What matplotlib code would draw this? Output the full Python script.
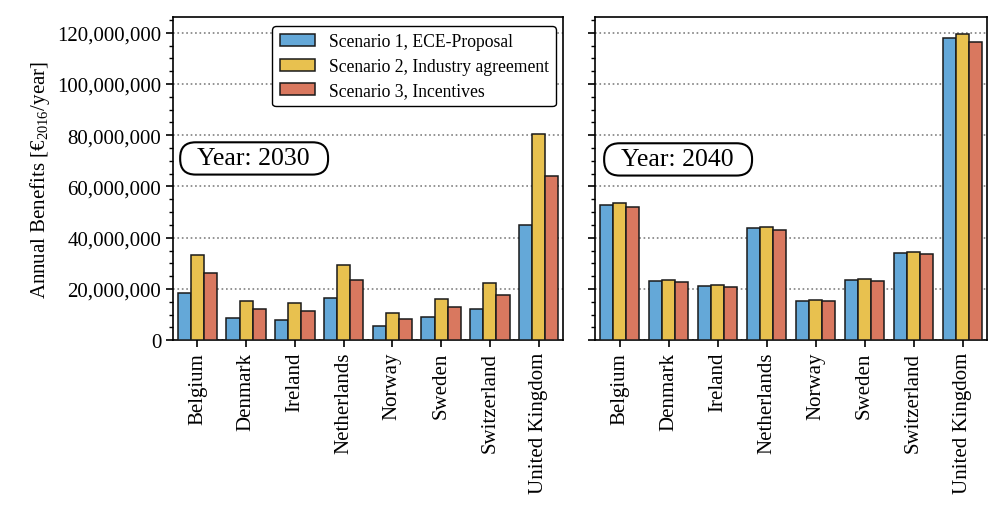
import matplotlib
matplotlib.use("Agg")
import matplotlib.pyplot as plt
import matplotlib.ticker as mticker
import numpy as np

plt.rcParams['font.family'] = ['Liberation Serif', 'DejaVu Serif']
plt.rcParams['mathtext.fontset'] = 'custom'
plt.rcParams['mathtext.rm'] = 'Liberation Serif'

countries = ["Belgium", "Denmark", "Ireland", "Netherlands", "Norway",
             "Sweden", "Switzerland", "United Kingdom"]
scenarios = ["Scenario 1, ECE-Proposal", "Scenario 2, Industry agreement",
             "Scenario 3, Incentives"]

# annual benefits, EUR/year
s1_2030 = [18.3e6, 8.5e6, 8.0e6, 16.5e6, 5.7e6, 9.2e6, 12.3e6, 45.0e6]
s2_2030 = [33.3e6, 15.3e6, 14.4e6, 29.4e6, 10.6e6, 16.1e6, 22.2e6, 80.3e6]
s3_2030 = [26.3e6, 12.2e6, 11.4e6, 23.4e6, 8.4e6, 12.8e6, 17.6e6, 63.9e6]

s1_2040 = [52.7e6, 23.1e6, 21.3e6, 43.7e6, 15.4e6, 23.5e6, 33.9e6, 117.9e6]
s2_2040 = [53.6e6, 23.5e6, 21.6e6, 44.1e6, 15.8e6, 23.9e6, 34.4e6, 119.7e6]
s3_2040 = [51.9e6, 22.9e6, 20.9e6, 42.9e6, 15.3e6, 23.1e6, 33.5e6, 116.3e6]

colors = ["#64a8d8", "#e8c14f", "#d9785f"]

fig = plt.figure(figsize=(10, 5.1), dpi=100)
ax1 = fig.add_axes([0.173, 0.331, 0.390, 0.633])
ax2 = fig.add_axes([0.595, 0.331, 0.392, 0.633], sharey=ax1)

x = np.arange(len(countries))
w = 0.27

for ax, data in [(ax1, [s1_2030, s2_2030, s3_2030]),
                 (ax2, [s1_2040, s2_2040, s3_2040])]:
    for i, vals in enumerate(data):
        ax.bar(x + (i - 1) * w, vals, w, color=colors[i], edgecolor="#1a1a1a",
               linewidth=1.1, label=scenarios[i], zorder=3)
    ax.set_xticks(x)
    ax.set_xticklabels(countries, rotation=90, fontsize=15)
    ax.set_xlim(-0.5, 7.5)
    ax.yaxis.grid(True, linestyle=":", color="gray", linewidth=1.2, zorder=0)
    ax.yaxis.set_major_locator(mticker.MultipleLocator(20e6))
    ax.yaxis.set_minor_locator(mticker.MultipleLocator(5e6))
    ax.tick_params(axis="both", which="major", length=5, width=1.2)
    ax.tick_params(axis="y", which="minor", length=3, width=1.0)
    for sp in ax.spines.values():
        sp.set_linewidth(1.2)

ax1.set_ylim(0, 126e6)
ax1.yaxis.set_major_formatter(mticker.FuncFormatter(lambda v, p: f"{v:,.0f}"))
ax1.tick_params(axis="y", labelsize=15)
ax2.tick_params(axis="y", labelleft=False)
ax1.set_ylabel(r"Annual Benefits [€$_{2016}$/year]", fontsize=15)

box = dict(boxstyle="round,pad=0.2,rounding_size=0.6", facecolor="white",
           edgecolor="black", linewidth=1.5)
ax1.text(0.208, 0.563, "  Year: 2030  ", transform=ax1.transAxes, fontsize=18.5,
         ha="center", va="center", bbox=box, zorder=5)
ax2.text(0.212, 0.560, "  Year: 2040  ", transform=ax2.transAxes, fontsize=18.5,
         ha="center", va="center", bbox=box, zorder=5)

leg = ax1.legend(loc="upper right", fontsize=12.7, frameon=True, fancybox=True,
                 edgecolor="black", framealpha=1, handlelength=2.0,
                 labelspacing=0.42, borderaxespad=0,
                 bbox_to_anchor=(0.982, 0.972))
leg.get_frame().set_linewidth(1.0)

fig.savefig("out.png", dpi=100)
